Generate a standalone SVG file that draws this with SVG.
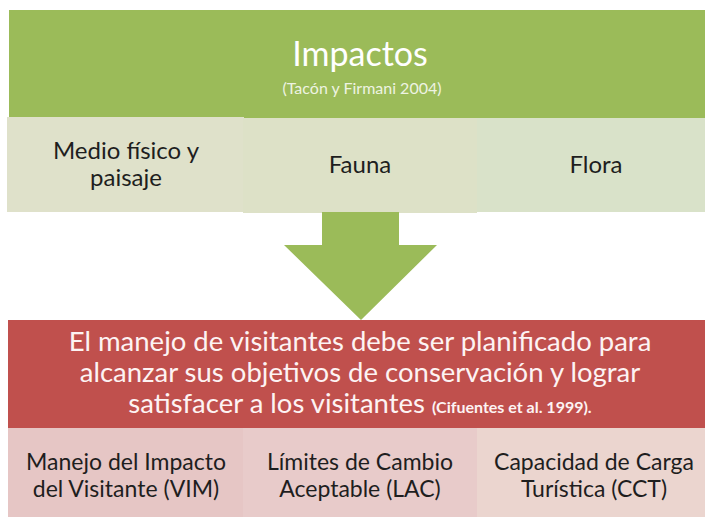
<svg xmlns="http://www.w3.org/2000/svg" width="705" height="517" viewBox="0 0 705 517">
<style>
text{font-family:Lato,"Open Sans","Noto Sans",sans-serif;text-anchor:middle}
.hd{fill:#ffffff;font-size:34px}
.sub{fill:#eef3e2;font-size:16px}
.lt{fill:#1e1e1e;font-size:24px}
.rd{fill:#fdf3f3;font-size:27.5px}
.cit{font-size:16px;font-weight:bold}
.bt{fill:#1e1e1e;font-size:23px}
</style>
<rect width="705" height="517" fill="#ffffff"/>
<g id="impactos">
<rect x="9" y="10" width="696" height="108" fill="#9bbb59"/>
<text class="hd" x="360" y="66">Impactos</text>
<text class="sub" x="362" y="94">(Tacón y Firmani 2004)</text>
</g>
<g id="medio">
<rect x="7" y="117" width="237" height="95" fill="#dfe1ca"/>
<text class="lt" x="126" y="159">Medio físico y</text>
<text class="lt" x="126" y="186">paisaje</text>
</g>
<g id="fauna">
<rect x="243" y="118" width="234" height="95" fill="#dde1c7"/>
<text class="lt" x="360" y="173">Fauna</text>
</g>
<g id="flora">
<rect x="477" y="118" width="228" height="94" fill="#d9e2c9"/>
<text class="lt" x="596" y="173">Flora</text>
</g>
<g id="connectors">
<polygon points="322,212 399,212 399,245 437,245 361,320 284,245 322,245" fill="#9bbb59"/>
</g>
<g id="manejo">
<rect x="8" y="320" width="697" height="108" fill="#c0504d"/>
<text class="rd" x="360" y="351">El manejo de visitantes debe ser planificado para</text>
<text class="rd" x="360" y="382">alcanzar sus objetivos de conservación y lograr</text>
<text class="rd" x="360" y="413">satisfacer a los visitantes <tspan class="cit">(Cifuentes et al. 1999).</tspan></text>
</g>
<g id="vim">
<rect x="8" y="428" width="235" height="89" fill="#e6c6c5"/>
<text class="bt" x="126" y="470">Manejo del Impacto</text>
<text class="bt" x="126" y="497">del Visitante (VIM)</text>
</g>
<g id="lac">
<rect x="243" y="428" width="234" height="89" fill="#e8cbca"/>
<text class="bt" x="360" y="470">Límites de Cambio</text>
<text class="bt" x="360" y="497">Aceptable (LAC)</text>
</g>
<g id="cct">
<rect x="477" y="428" width="228" height="89" fill="#ebd5cf"/>
<text class="bt" x="594" y="470">Capacidad de Carga</text>
<text class="bt" x="594" y="497">Turística (CCT)</text>
</g>
</svg>
